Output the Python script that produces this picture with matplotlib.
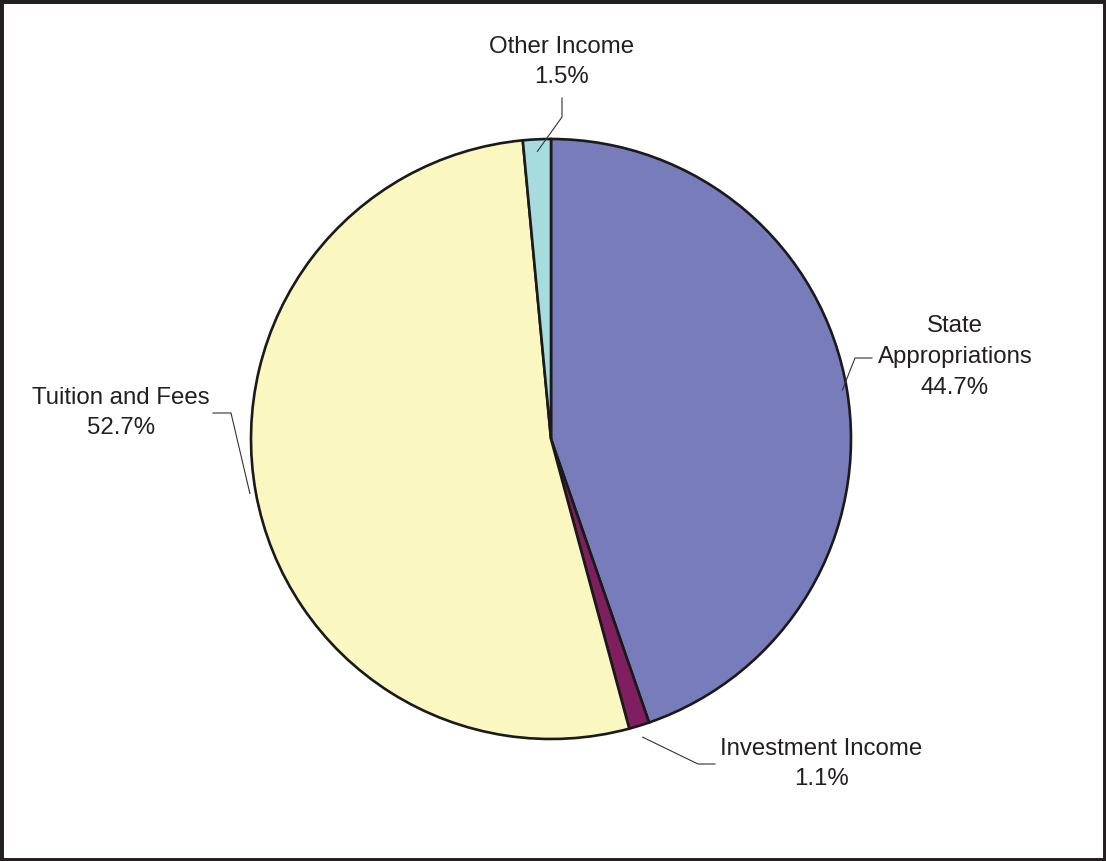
import numpy as np
import matplotlib.pyplot as plt
from matplotlib.patches import Rectangle

plt.rcParams["font.family"] = ["Liberation Sans", "DejaVu Sans"]

# revenue shares (%), clockwise from 12 o'clock
categories = ["State\nAppropriations", "Investment Income", "Tuition and Fees", "Other Income"]
shares = [44.7, 1.1, 52.7, 1.5]
colors = ["#797cbb", "#7f1f5f", "#faf7c1", "#a6dcdd"]

W, H = 1106, 861
CX, CY, R = 551, H - 439, 300

# label layout in pixel coords (y measured from top): anchor radius factor,
# elbow point, end of leader, text centre
layout = [
    (0.985, (855, 358), (872, 358), (955, 357)),
    (1.04, (698, 764), (715, 764), (821, 764)),
    (1.02, (231, 413), (213, 413), (121, 413)),
    (0.96, (562, 117), (562, 98), (562, 62)),
]

fig = plt.figure(figsize=(W / 100, H / 100), dpi=100)
ax = fig.add_axes([0, 0, 1, 1])

wedges, _ = ax.pie(
    shares,
    colors=colors,
    startangle=90,
    counterclock=False,
    center=(CX, CY),
    radius=R,
    wedgeprops=dict(edgecolor="#1a1a1a", linewidth=1.9),
)
ax.set_xlim(0, W)
ax.set_ylim(0, H)
ax.set_aspect("auto")
ax.axis("off")

for w, cat, val, (rf, elbow, end, txt) in zip(wedges, categories, shares, layout):
    mid = np.deg2rad((w.theta1 + w.theta2) / 2)
    ax0 = CX + rf * R * np.cos(mid)
    ay0 = CY + rf * R * np.sin(mid)
    xs = [ax0, elbow[0], end[0]]
    ys = [ay0, H - elbow[1], H - end[1]]
    ax.plot(xs, ys, color="#333333", lw=0.8)
    ax.text(txt[0], H - txt[1], f"{cat}\n{val}%", ha="center", va="center",
            multialignment="center", fontsize=17.3, color="#231f20", linespacing=1.52)

fig.patches.append(Rectangle((0, 0), 1, 1, transform=fig.transFigure, fill=False,
                             edgecolor="#231f20", linewidth=5))

fig.savefig("out.png", dpi=100)
